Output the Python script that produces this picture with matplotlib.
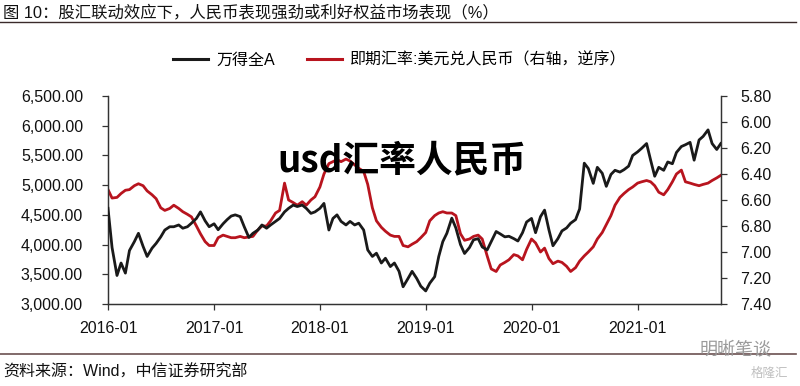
import numpy as np
import pandas as pd
import matplotlib
matplotlib.use('Agg')
import matplotlib.pyplot as plt
from matplotlib.lines import Line2D
from matplotlib.ticker import FuncFormatter

plt.rcParams['font.family'] = ['Liberation Sans', 'Noto Sans CJK SC', 'DejaVu Sans']

# semi-monthly sample dates (1st and 15th of each month)
dates = pd.date_range('2016-01-01', periods=140, freq='SMS')

# 万得全A (left axis)
wind_a = [
    4610, 3950, 3480, 3690, 3520, 3900, 4050, 4190, 3970, 3800,
    3940, 4020, 4130, 4245, 4300, 4300, 4330, 4275, 4300, 4360,
    4440, 4550, 4400, 4300, 4350, 4250, 4350, 4420, 4480, 4500,
    4470, 4300, 4120, 4190, 4245, 4330, 4275, 4330, 4390, 4440,
    4550, 4610, 4665, 4640, 4665, 4610, 4525, 4550, 4610, 4693,
    4245, 4440, 4500, 4390, 4330, 4390, 4330, 4360, 4245, 3910,
    3800, 3855, 3690, 3770, 3630, 3690, 3550, 3290, 3430, 3550,
    3430, 3300, 3220, 3350, 3460, 3800, 4050, 4190, 4445, 4280,
    4000, 3850, 3950, 4080, 4100, 3960, 3910, 4050, 4220, 4180,
    4130, 4140, 4100, 4060, 4200, 4380, 4440, 4200, 4470, 4580,
    4250, 3980, 4100, 4230, 4280, 4360, 4420, 4600, 5370, 5280,
    5030, 5300, 5200, 4980, 5180, 5250, 5220, 5260, 5320, 5500,
    5560, 5620, 5700, 5420, 5150, 5300, 5250, 5390, 5360, 5550,
    5650, 5680, 5720, 5420, 5760, 5820, 5930, 5700, 5600, 5700,
]

# 即期汇率:美元兑人民币 (right axis, inverted)
usdcny = [
    6.52, 6.585, 6.58, 6.55, 6.525, 6.52, 6.49, 6.475, 6.49, 6.53,
    6.56, 6.59, 6.66, 6.68, 6.665, 6.64, 6.665, 6.69, 6.71, 6.73,
    6.80, 6.86, 6.92, 6.95, 6.95, 6.89, 6.87, 6.88, 6.89, 6.89,
    6.88, 6.89, 6.885, 6.88, 6.83, 6.80, 6.80, 6.76, 6.70, 6.68,
    6.47, 6.60, 6.62, 6.64, 6.613, 6.64, 6.60, 6.575, 6.50, 6.40,
    6.32, 6.305, 6.29, 6.305, 6.285, 6.30, 6.33, 6.356, 6.38, 6.48,
    6.66, 6.76, 6.81, 6.84, 6.87, 6.88, 6.88, 6.95, 6.96, 6.94,
    6.92, 6.89, 6.85, 6.76, 6.72, 6.70, 6.69, 6.70, 6.70, 6.72,
    6.86, 6.91, 6.90, 6.88, 6.87, 6.90, 7.03, 7.13, 7.15, 7.10,
    7.08, 7.06, 7.02, 7.03, 7.06, 6.98, 6.90, 6.93, 7.00, 6.97,
    7.05, 7.09, 7.07, 7.08, 7.11, 7.15, 7.12, 7.07, 7.03, 7.00,
    6.96, 6.90, 6.85, 6.79, 6.72, 6.64, 6.58, 6.55, 6.52, 6.50,
    6.47, 6.46, 6.45, 6.46, 6.49, 6.54, 6.56, 6.52, 6.46, 6.40,
    6.37, 6.46, 6.47, 6.48, 6.49, 6.48, 6.47, 6.45, 6.43, 6.41,
]

left_ticks = [3000, 3500, 4000, 4500, 5000, 5500, 6000, 6500]
right_ticks = [5.80, 6.00, 6.20, 6.40, 6.60, 6.80, 7.00, 7.20, 7.40]
year_ticks = ['2016-01', '2017-01', '2018-01', '2019-01', '2020-01', '2021-01']

black = '#1a1a1a'
red = '#b8141e'
fs = 11.5

fig = plt.figure(figsize=(8, 3.86), dpi=100)
ax = fig.add_axes([0.135, 0.2124, 0.766, 0.5389])
ax2 = ax.twinx()

ax.plot(dates, wind_a, color=black, lw=2.0, zorder=3)
ax2.plot(dates, usdcny, color=red, lw=2.0, zorder=2)
ax.set_zorder(ax2.get_zorder() + 1)
ax.patch.set_visible(False)

ax.set_xlim(pd.Timestamp('2016-01-01'), pd.Timestamp('2021-10-15'))
ax.set_ylim(3000, 6500)
ax.set_yticks(left_ticks)
ax.yaxis.set_major_formatter(FuncFormatter(lambda v, p: f'{v:,.2f}'))
ax2.set_ylim(7.40, 5.80)
ax2.set_yticks(right_ticks)
ax2.yaxis.set_major_formatter(FuncFormatter(lambda v, p: f'{v:.2f}'))
ax.set_xticks([pd.Timestamp(t + '-01') for t in year_ticks])
ax.set_xticklabels(year_ticks)

for a in (ax, ax2):
    a.spines['top'].set_visible(False)
    for s in ('left', 'right', 'bottom'):
        a.spines[s].set_color('#333333')
        a.spines[s].set_linewidth(0.9)
    a.tick_params(direction='out', length=4, width=0.9, color='#333333',
                  labelsize=fs, labelcolor='#111111', pad=3)
ax.tick_params(axis='y', pad=14)
ax2.tick_params(axis='y', pad=10)
ax.tick_params(axis='x', pad=8)

# title and rule
fig.text(0.004, 0.968, '图 10：股汇联动效应下，人民币表现强劲或利好权益市场表现（%）',
         fontsize=11.8, color='#111111', va='center', ha='left')
fig.add_artist(Line2D([0.0, 0.995], [0.943, 0.943], color='#3a2a2a', lw=1.0))

# legend
handles = [Line2D([], [], color=black, lw=2.2), Line2D([], [], color=red, lw=2.2)]
fig.legend(handles, ['万得全A', '即期汇率:美元兑人民币（右轴，逆序）'],
           loc='center', bbox_to_anchor=(0.5, 1 - 60 / 386), ncol=2, frameon=False,
           fontsize=fs, handlelength=2.2, handletextpad=0.5, columnspacing=2.0)

# overlay caption
fig.text(0.502, 1 - 161 / 386, 'usd汇率人民币', fontsize=26.5, fontweight='heavy',
         color='black', ha='center', va='center',
         family=['Noto Sans CJK SC', 'DejaVu Sans'])

# source rule and text
fig.add_artist(Line2D([0.0, 0.995], [1 - 354 / 386, 1 - 354 / 386], color='#6b5050', lw=1.2))
fig.text(0.004, 1 - 372 / 386, '资料来源：Wind，中信证券研究部', fontsize=fs,
         color='#111111', va='center', ha='left')

# watermark
fig.text(0.965, 1 - 350 / 386, '明晰笔谈', fontsize=13, color='#9a9a9a',
         ha='right', va='center', family=['Noto Sans CJK SC'])
fig.text(0.985, 1 - 373 / 386, '格隆汇', fontsize=9, color='#c0c0c0',
         ha='right', va='center', family=['Noto Sans CJK SC'])

fig.savefig('out.png', dpi=100)
